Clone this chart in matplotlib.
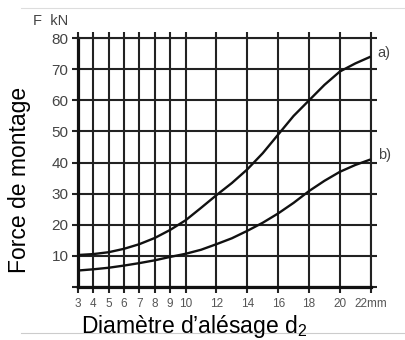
import matplotlib
matplotlib.use("Agg")
import matplotlib.pyplot as plt
from matplotlib.lines import Line2D

plt.rcParams['font.family'] = ['Liberation Sans', 'DejaVu Sans']
plt.rcParams['mathtext.fontset'] = 'custom'
plt.rcParams['mathtext.rm'] = 'Liberation Sans'

# Data
diam = [3, 4, 5, 6, 7, 8, 9, 10, 11, 12, 13, 14, 15, 16, 17, 18, 19, 20, 21, 22]
force_a = [10.2, 10.5, 11.1, 12.2, 13.7, 15.7, 18.3, 21.4, 25.4, 29.5, 33.4, 37.8,
           43.0, 49.0, 55.0, 60.0, 65.0, 69.3, 71.9, 74.1]
force_b = [5.2, 5.6, 6.1, 6.8, 7.6, 8.5, 9.6, 10.6, 11.9, 13.7, 15.6, 18.0,
           20.6, 23.6, 27.0, 30.8, 34.1, 37.0, 39.2, 41.0]
x_ticks = [3, 4, 5, 6, 7, 8, 9, 10, 12, 14, 16, 18, 20, 22]
x_ticklabels = ['3', '4', '5', '6', '7', '8', '9', '10', '12', '14', '16', '18', '20', '22mm']
y_ticks = [0, 10, 20, 30, 40, 50, 60, 70, 80]
y_ticklabels = ['', '10', '20', '30', '40', '50', '60', '70', '80']
series_labels = ['a)', 'b)']

W, H = 406, 340
fig = plt.figure(figsize=(W / 100, H / 100), dpi=100)
ax = fig.add_axes([77.7 / W, 53.3 / H, 293.0 / W, 248.4 / H])
ax.set_xlim(3, 22)
ax.set_ylim(0, 80)

gc = '#222222'
ax.set_xticks(x_ticks)
ax.set_xticklabels(x_ticklabels)
ax.set_yticks(y_ticks)
ax.set_yticklabels(y_ticklabels)
ax.grid(True, color=gc, lw=1.5)
ax.set_axisbelow(True)
ax.tick_params(axis='both', which='both', direction='out', length=4.2, width=1.5,
               color=gc, top=True, right=True)
ax.tick_params(axis='y', labelsize=11, labelcolor='#444444', pad=2.5)
ax.tick_params(axis='x', labelsize=8.5, labelcolor='#555555', pad=4)
for s in ['top', 'right']:
    ax.spines[s].set_linewidth(1.5)
    ax.spines[s].set_color(gc)
for s in ['left', 'bottom']:
    ax.spines[s].set_linewidth(2.3)
    ax.spines[s].set_color('#111111')

ax.plot(diam, force_a, color='#111111', lw=1.7, solid_capstyle='butt', zorder=5)
ax.plot(diam, force_b, color='#111111', lw=1.7, solid_capstyle='butt', zorder=5)

for ys, lab, dy in [(force_a, series_labels[0], 4), (force_b, series_labels[1], 4)]:
    ax.annotate(lab, (diam[-1], ys[-1]), xytext=(7, dy), textcoords='offset pixels',
                fontsize=10.5, color='#444444', ha='left', va='center',
                annotation_clip=False)

fig.text(68 / W, 1 - 25 / H, 'F  kN', fontsize=10.5, color='#444444',
         ha='right', va='baseline')
fig.text(20 / W, 1 - 180 / H, 'Force de montage', fontsize=16.5, color='black',
         rotation=90, ha='center', va='center')
fig.text(81.5 / W, 1 - 333 / H, 'Diamètre d’alésage d$_\\mathregular{2}$',
         fontsize=16.5, color='black', ha='left', va='baseline')

fig.add_artist(Line2D([21 / W, 1], [1 - 7.5 / H, 1 - 7.5 / H],
                      transform=fig.transFigure, color='#dddddd', lw=0.8))
fig.add_artist(Line2D([21 / W, 1], [1 - 332.5 / H, 1 - 332.5 / H],
                      transform=fig.transFigure, color='#cccccc', lw=0.8, zorder=0))

fig.savefig('out.png', dpi=100)
